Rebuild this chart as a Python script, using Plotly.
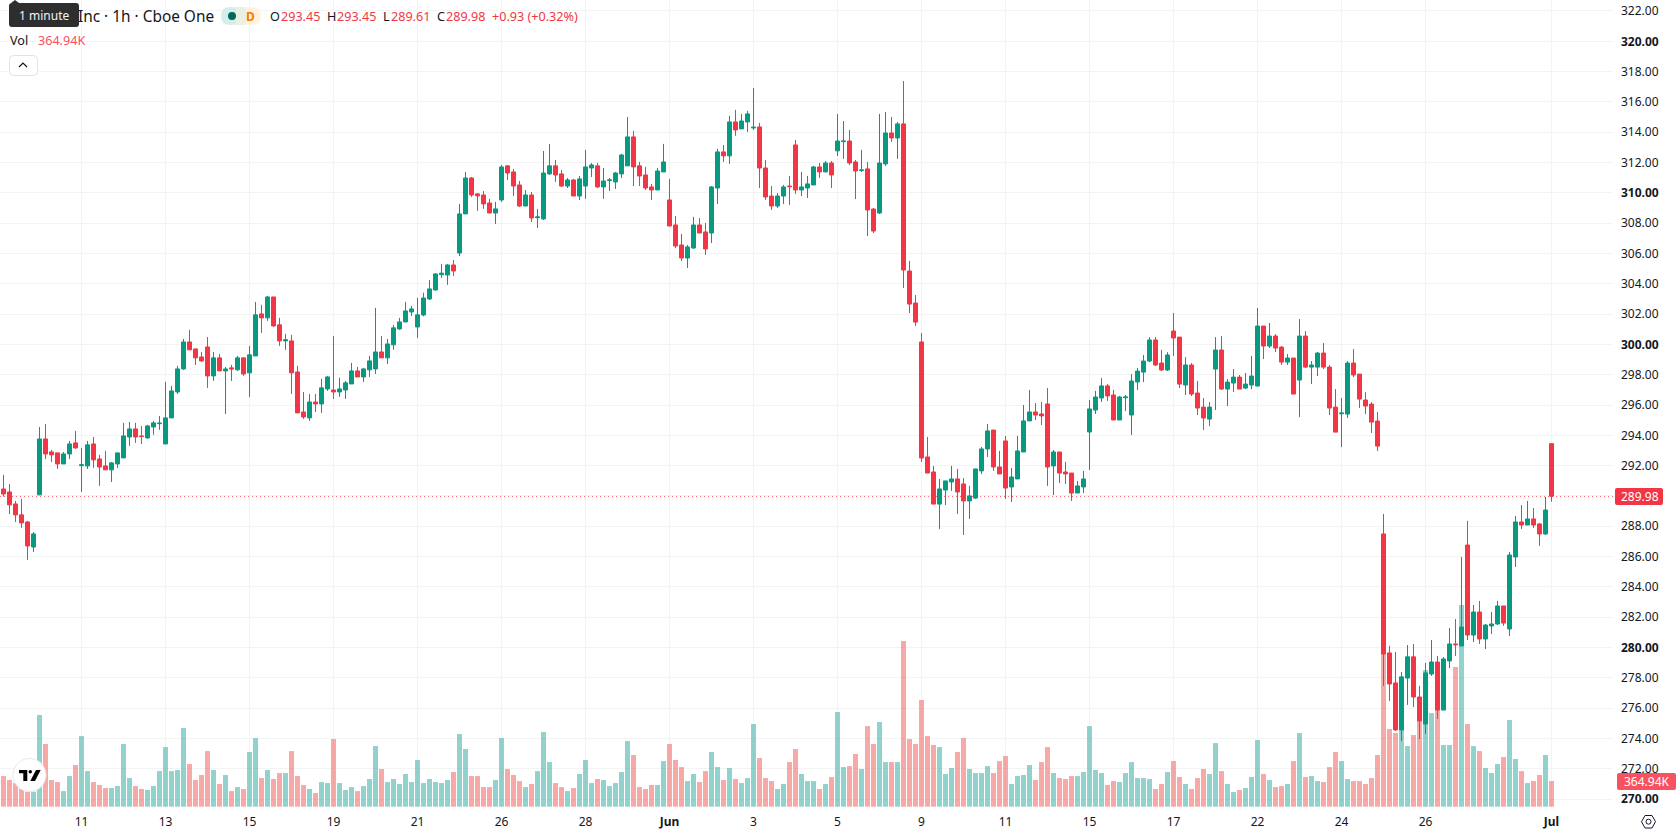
import plotly.graph_objects as go

# Hourly OHLC series
opens = [
    290.46,290.26,289.47,288.75,288.28,286.63,290.07,293.76,292.90,292.84,
    292.11,292.77,293.50,292.00,291.98,293.43,292.44,291.98,291.72,292.11,
    292.51,293.89,294.42,293.96,293.83,294.55,294.77,293.43,295.15,296.86,
    298.38,300.16,299.70,299.17,299.83,297.92,299.11,298.25,298.45,298.32,
    299.11,298.12,299.24,302.01,301.75,303.13,301.29,300.23,300.23,298.18,
    295.54,295.15,296.20,296.07,297.06,296.99,296.86,296.99,297.39,298.25,
    297.85,298.32,298.38,299.50,299.11,299.97,301.02,301.48,302.14,301.15,
    301.94,303.00,303.59,304.60,304.58,305.24,306.03,308.61,310.98,309.93,
    309.86,309.33,308.67,309.53,311.78,311.38,310.52,309.13,309.86,308.36,
    308.28,311.25,311.78,311.25,310.45,310.85,309.79,310.45,311.64,311.78,
    310.39,310.81,310.72,311.25,311.78,313.69,311.78,311.18,310.39,310.19,
    311.38,309.53,307.88,306.56,305.70,306.36,307.88,307.42,307.35,310.32,
    312.70,312.44,314.68,314.22,314.68,314.28,314.35,311.64,309.79,309.13,
    309.79,310.45,313.16,310.19,310.32,310.52,311.71,311.38,311.97,312.77,
    313.38,313.42,312.04,311.47,311.58,308.93,308.67,311.91,313.95,313.62,
    314.55,304.84,302.73,300.16,292.57,291.58,289.46,290.39,290.92,291.12,
    290.79,289.67,289.86,291.65,293.10,294.35,291.91,293.63,290.59,291.12,
    292.90,294.95,295.54,295.41,296.07,291.98,292.90,291.58,291.51,290.19,
    290.59,294.22,295.67,296.46,297.26,296.66,295.01,296.48,295.34,297.52,
    298.17,298.90,300.29,298.77,298.31,300.88,300.48,297.32,298.64,296.79,
    295.86,295.07,298.37,299.63,297.05,297.45,297.84,297.12,297.32,297.25,
    301.21,299.89,300.55,299.82,298.83,299.10,297.65,300.55,298.50,298.50,
    299.43,298.50,295.86,295.42,295.40,298.77,298.04,296.33,296.06,294.94,
    287.49,279.64,277.66,274.56,277.98,279.38,276.73,274.95,278.25,279.04,
    275.87,279.11,280.23,280.10,286.76,280.82,282.34,280.56,281.42,281.55,
    282.74,281.22,285.97,288.28,288.08,288.48,288.15,287.49,293.45,
]
highs = [
    291.39,290.79,289.67,289.80,288.35,287.62,294.55,294.75,293.04,292.84,
    292.90,293.63,294.29,293.17,293.63,293.89,292.71,292.97,292.24,292.84,
    294.82,294.88,294.82,294.62,294.69,294.95,295.28,297.52,297.26,298.58,
    300.36,300.96,299.70,299.50,300.49,299.50,299.37,298.51,298.65,299.24,
    299.11,299.90,302.80,302.61,303.20,303.13,301.75,300.69,300.63,298.58,
    296.86,296.73,296.73,297.72,297.92,300.56,297.79,297.59,298.78,298.51,
    298.45,299.24,302.41,300.56,300.36,301.29,301.75,302.80,302.54,303.07,
    303.41,304.25,304.71,305.31,305.31,305.57,309.27,311.38,311.05,309.99,
    310.12,309.60,309.40,311.84,311.84,311.58,310.78,310.19,310.06,308.94,
    312.76,313.23,312.17,311.51,310.98,310.92,311.11,312.83,311.97,311.97,
    311.64,310.98,311.38,312.57,315.01,314.08,312.04,311.71,310.59,311.64,
    313.23,310.92,308.47,307.29,306.56,308.41,308.34,308.01,310.45,312.90,
    313.16,315.08,315.47,315.21,315.41,316.92,314.61,312.17,310.45,309.99,
    310.52,311.11,313.49,311.38,311.11,311.78,311.97,312.10,312.10,315.21,
    314.74,314.15,312.17,312.83,312.04,309.00,315.21,315.34,315.01,314.68,
    317.38,305.50,303.26,300.75,293.89,291.98,291.12,290.99,291.98,291.78,
    291.18,290.66,291.78,293.23,294.75,294.35,292.97,293.96,291.84,293.96,
    296.00,296.99,296.13,296.20,297.12,293.03,292.90,292.24,291.51,290.99,
    291.65,296.33,296.93,297.78,297.39,296.99,296.60,296.66,298.04,298.44,
    299.30,300.48,300.48,299.63,299.49,302.07,300.48,299.16,298.77,297.58,
    296.46,296.19,300.48,300.55,297.71,298.37,297.98,298.11,299.23,302.40,
    301.21,301.41,300.68,299.89,299.36,299.10,301.67,300.88,298.90,299.49,
    300.09,298.64,297.05,296.46,298.90,299.69,298.04,296.85,296.19,295.54,
    288.81,280.10,279.70,278.38,280.16,280.23,277.46,278.98,280.49,279.44,
    279.37,281.28,281.88,285.97,288.35,282.80,283.07,281.55,282.34,283.07,
    282.74,286.30,288.68,289.40,289.67,289.20,288.21,289.93,293.45,
]
lows = [
    289.96,288.81,288.28,287.89,285.78,286.30,290.07,292.44,292.24,291.78,
    292.11,292.44,293.10,290.26,291.78,291.85,290.66,291.72,290.92,291.85,
    292.51,293.30,293.50,293.43,293.76,294.03,294.36,293.43,295.15,296.73,
    298.32,299.64,298.65,298.84,297.13,297.59,298.25,295.41,297.59,298.25,
    297.92,296.53,299.24,300.76,301.55,301.15,299.90,299.64,296.73,295.48,
    295.08,294.95,295.54,295.48,296.93,296.40,296.53,296.40,297.39,297.85,
    297.52,297.85,298.05,299.11,298.71,299.64,300.96,301.48,301.88,300.43,
    301.85,302.93,303.55,304.38,303.93,304.51,305.83,308.61,309.73,308.81,
    308.94,308.67,307.95,309.40,310.85,309.79,309.07,309.13,308.08,307.68,
    308.21,311.18,310.72,310.39,310.32,309.79,309.53,309.60,311.05,310.32,
    309.60,310.12,310.26,310.98,311.78,310.45,310.45,310.19,309.53,310.19,
    311.38,307.81,306.36,305.50,305.04,306.30,307.35,305.90,306.69,309.27,
    312.04,311.91,313.76,314.22,314.02,314.15,310.32,309.53,308.87,309.00,
    309.27,309.20,309.93,309.79,309.66,310.52,310.98,311.38,310.32,312.43,
    312.24,311.84,309.59,311.38,307.15,307.35,308.61,311.77,313.36,312.24,
    303.72,302.07,301.21,292.24,291.51,289.46,287.81,289.40,290.33,288.81,
    287.42,288.48,289.80,291.45,292.57,291.65,291.45,289.80,289.60,291.12,
    292.90,294.95,295.01,294.68,290.66,290.06,290.85,290.79,289.67,290.19,
    290.19,291.71,295.41,296.20,296.27,295.01,295.01,295.60,294.02,296.99,
    297.51,298.83,298.57,298.24,298.24,299.23,297.12,296.66,296.59,295.34,
    294.35,294.61,295.67,296.99,295.93,296.85,297.05,297.05,297.05,297.25,
    299.03,299.76,299.49,298.64,298.64,296.72,295.20,298.44,297.38,297.91,
    298.37,295.34,294.21,293.22,295.14,297.84,295.80,295.40,294.15,292.96,
    277.46,276.47,274.49,273.83,276.21,276.07,273.96,274.29,278.12,275.28,
    275.87,278.64,279.44,280.10,280.49,280.36,280.23,279.90,280.89,281.48,
    281.42,280.76,285.31,287.82,288.08,287.88,286.70,287.42,289.61,
]
closes = [
    290.13,289.41,288.75,288.22,286.70,287.49,293.76,292.77,292.71,292.11,
    292.77,293.43,293.17,292.05,293.37,292.38,291.91,291.72,292.18,292.84,
    293.96,294.42,293.89,293.92,294.62,294.82,294.80,295.15,296.93,298.38,
    300.16,299.64,299.11,298.91,297.92,299.11,298.25,298.38,298.38,299.11,
    298.05,299.31,301.95,301.75,303.13,301.22,300.23,300.30,298.12,295.48,
    295.21,296.20,296.07,297.13,297.85,296.86,297.06,297.46,298.25,297.85,
    298.38,298.91,299.50,299.11,300.03,301.09,301.48,302.21,302.34,301.95,
    303.06,303.66,304.65,304.70,305.24,304.84,308.61,310.98,309.86,309.80,
    309.27,308.67,308.94,311.71,311.31,310.45,309.13,309.86,308.34,308.41,
    311.31,311.78,311.18,310.45,310.85,309.79,310.92,311.71,311.84,310.39,
    310.78,310.85,311.31,312.50,313.69,311.71,311.11,310.32,310.19,311.44,
    312.04,307.81,306.49,305.70,306.43,307.88,307.35,306.30,310.39,312.70,
    312.44,314.68,314.15,314.74,315.21,314.33,311.64,309.73,309.13,309.79,
    310.39,310.41,310.19,310.39,310.59,311.71,311.38,311.97,311.18,313.42,
    313.42,311.97,311.44,311.51,308.87,307.48,311.97,313.95,313.62,314.55,
    304.91,302.66,301.47,292.50,291.51,289.46,290.46,290.99,291.12,290.26,
    289.67,290.00,291.78,293.10,294.29,291.91,291.45,290.52,291.25,292.97,
    294.95,295.54,295.34,295.28,291.91,292.90,291.51,291.45,290.19,290.66,
    291.12,295.74,296.53,297.26,296.60,295.01,296.53,296.53,297.58,298.24,
    298.90,300.29,298.64,298.31,299.30,300.42,297.38,298.64,296.72,295.80,
    295.14,295.86,299.63,297.05,297.51,297.84,297.05,297.38,297.91,301.21,
    299.89,300.55,299.76,298.83,299.10,296.72,300.55,298.50,298.64,299.43,
    298.50,295.80,294.21,295.47,298.77,297.98,296.39,295.93,294.87,293.29,
    279.57,277.59,274.56,278.06,279.38,276.73,275.15,278.32,279.04,275.87,
    279.24,280.23,280.18,281.35,280.82,282.34,280.56,281.48,281.55,282.74,
    281.61,286.10,288.28,288.08,288.48,288.08,287.49,289.07,289.98,
]
# Volume per bar, thousands of shares
volumes_k = [
    435,379,336,260,213,213,1302,890,379,350,
    222,435,592,1003,506,350,308,265,265,293,
    890,407,293,251,237,293,506,847,506,521,
    1117,606,379,450,790,521,322,450,222,279,
    251,776,975,407,521,393,478,478,790,435,
    308,251,194,350,336,961,336,237,279,222,
    293,393,861,535,350,393,322,464,350,663,
    336,393,350,336,379,492,1032,819,435,435,
    279,279,379,975,535,450,364,279,322,506,
    1060,634,336,279,222,265,464,663,336,393,
    379,293,336,492,932,734,279,251,308,308,
    648,890,663,563,364,464,350,506,776,563,
    379,549,393,336,407,1174,691,407,364,251,
    322,634,819,464,364,364,251,322,421,1344,
    563,577,748,535,1145,890,1202,634,634,634,
    2352,961,890,1515,1003,876,847,464,549,776,
    975,535,478,478,577,478,648,719,322,435,
    450,592,379,634,847,478,407,393,435,435,
    492,1145,521,478,308,364,350,478,634,407,
    407,393,251,322,492,648,421,322,251,407,
    535,464,904,506,322,208,237,265,421,947,
    464,379,279,293,322,648,1046,421,435,364,
    350,563,776,648,393,364,364,322,407,734,
    2168,1103,1046,1103,861,1018,1216,1941,1330,1373,
    876,876,1984,2864,1174,861,790,549,478,606,
    705,1231,677,506,336,364,450,734,364.94,
]
date_positions = [13,27,41,55,69,83,97,111,125,139,153,167,181,195,209,223,237,258]
date_labels = ["11","13","15","19","21","26","28","<b>Jun</b>","3","5","9","11","15","17","22","24","26","<b>Jul</b>"]
price_ticks = list(range(270, 324, 2))
last_price = 289.98
last_volume_label = "364.94K"

UP = "#089981"
DOWN = "#F23645"
INK = "#131722"
GRID = "#f2f3f3"
FONT = "Noto Sans"
WIDTH, HEIGHT = 1678, 835
PLOT_W, PLOT_H = 1613, 808
PX_PER_BAR = 6.0
FIRST_BAR_PX = 3.5
PX_PER_PRICE = 15.154
PX_AT_270 = 799.0
VOL_BASE_PX = 806.7
KILO_PER_PX = 14.2


def px(x):
    return x / PLOT_W


def py(y):
    return 1 - y / PLOT_H


def price_label(p):
    if p == 290:
        return ""
    text = f"{p:.2f}"
    return f"<b>{text}</b>" if p % 10 == 0 else text


def text_at(x, y, text, size=12.6, color=INK, anchor="left"):
    return dict(
        x=px(x), y=py(y), xref="paper", yref="paper", text=text, showarrow=False,
        xanchor=anchor, yanchor="middle", borderpad=0,
        font=dict(family=FONT, size=size, color=color),
    )


def box(x0, y0, x1, y1, fill, line=None, radius=0):
    # rounded rectangle in pixel coordinates
    a, b, c, d = px(x0), py(y0), px(x1), py(y1)
    rx, ry = radius / PLOT_W, radius / PLOT_H
    path = (
        f"M{a+rx},{b} L{c-rx},{b} Q{c},{b} {c},{b-ry} L{c},{d+ry} Q{c},{d} {c-rx},{d} "
        f"L{a+rx},{d} Q{a},{d} {a},{d+ry} L{a},{b-ry} Q{a},{b} {a+rx},{b} Z"
    )
    return dict(type="path", xref="paper", yref="paper", path=path, fillcolor=fill,
                line=dict(color=line or "rgba(0,0,0,0)", width=1 if line else 0), layer="above")


def poly(points, fill=None, line=None, width=1, closed=True):
    path = "M" + " L".join(f"{px(x)},{py(y)}" for x, y in points) + (" Z" if closed else "")
    return dict(type="path", xref="paper", yref="paper", path=path,
                fillcolor=fill or "rgba(0,0,0,0)",
                line=dict(color=line or "rgba(0,0,0,0)", width=width if line else 0), layer="above")


def circle(cx, cy, r, fill, line=None):
    return dict(type="circle", xref="paper", yref="paper",
                x0=px(cx - r), x1=px(cx + r), y0=py(cy + r), y1=py(cy - r),
                fillcolor=fill, line=dict(color=line or "rgba(0,0,0,0)", width=1 if line else 0),
                layer="above")


bars = list(range(len(closes)))
volume_colors = ["rgba(239,83,80,0.5)" if c < o else "rgba(38,166,154,0.5)" for o, c in zip(opens, closes)]

fig = go.Figure()
fig.add_trace(go.Bar(x=bars, y=volumes_k, marker=dict(color=volume_colors, line=dict(width=0)),
                     width=5 / 6, xaxis="x", yaxis="y", hoverinfo="skip", showlegend=False))
fig.add_trace(go.Candlestick(
    x=bars, open=opens, high=highs, low=lows, close=closes, xaxis="x", yaxis="y2",
    increasing=dict(line=dict(color=UP, width=1), fillcolor=UP),
    decreasing=dict(line=dict(color=DOWN, width=1), fillcolor=DOWN),
    whiskerwidth=0, showlegend=False,
))

shapes = [
    dict(type="line", xref="paper", yref="y2", x0=0, x1=1, y0=last_price, y1=last_price,
         line=dict(color=DOWN, width=1, dash="1px,3px"), layer="below"),
    # last price and last volume tags on the axis
    box(1615, 488, 1663, 505, DOWN, radius=2),
    box(1617, 773, 1676, 790, "#f7525f", radius=2),
    # tooltip over the symbol name
    poly([(11, 3), (15, 0), (19, 3)], fill="#2e2e2e"),
    box(9, 3, 79, 27, "#2e2e2e", radius=3),
    # market status badge
    box(221, 7, 241, 25, "#d5eeea", radius=9),
    box(241, 7, 261, 25, "#fff3e0", radius=9),
    box(236, 7, 246, 25, "#e9f1e5"),
    circle(232, 16, 4, "#006b5a"),
    # collapse button
    box(9.5, 55.5, 37.5, 75.5, "#ffffff", line="#e0e3eb", radius=4),
    poly([(19, 67), (23, 63), (27, 67)], line=INK, width=1.2, closed=False),
    # chart brand badge
    circle(29.5, 775, 16.5, "#ffffff", line="#e6e8ee"),
    poly([(19, 770), (27.3, 770), (27.3, 781), (23.3, 781), (23.3, 773.3), (19, 773.3)], fill="#000000"),
    circle(30.3, 771.7, 1.7, "#000000"),
    poly([(36, 770), (40.7, 770), (35, 781), (30.3, 781)], fill="#000000"),
    # settings icon on the axis corner
    poly([(1641.5, 821.7), (1645, 815.5), (1652, 815.5), (1655.5, 821.7), (1652, 828), (1645, 828)],
         line=INK, width=1),
    circle(1648.5, 821.7, 2.5, "rgba(0,0,0,0)", line=INK),
]

annotations = [
    text_at(77, 16, "Inc · 1h · Cboe One", size=15.4),
    text_at(43.5, 15.5, "1 minute", size=12, color="#f0f3fa", anchor="center"),
    text_at(250.5, 16, "<b>D</b>", size=12, color="#f57c00", anchor="center"),
    text_at(269, 16, "O"), text_at(280, 16, "293.45", color=DOWN),
    text_at(326, 16, "H"), text_at(336, 16, "293.45", color=DOWN),
    text_at(382, 16, "L"), text_at(390, 16, "289.61", color=DOWN),
    text_at(436, 16, "C"), text_at(445, 16, "289.98", color=DOWN),
    text_at(491, 16, "+0.93 (+0.32%)", color=DOWN),
    text_at(9, 40.5, "Vol"),
    text_at(37, 40.5, last_volume_label, color="#f7525f"),
    text_at(1640, 496.5, f"{last_price:.2f}", size=12, color="#ffffff", anchor="center"),
    text_at(1646.5, 781.5, last_volume_label, size=12, color="#ffffff", anchor="center"),
]

fig.update_layout(
    width=WIDTH, height=HEIGHT, autosize=False,
    margin=dict(l=0, r=WIDTH - PLOT_W, t=0, b=HEIGHT - PLOT_H, pad=0),
    paper_bgcolor="#ffffff", plot_bgcolor="#ffffff",
    font=dict(family=FONT, size=12, color=INK),
    barmode="overlay", boxgap=1 / 3, boxgroupgap=0,
    showlegend=False, shapes=shapes, annotations=annotations,
    xaxis=dict(
        range=[-FIRST_BAR_PX / PX_PER_BAR, (PLOT_W - FIRST_BAR_PX) / PX_PER_BAR],
        tickmode="array", tickvals=date_positions, ticktext=date_labels,
        showgrid=True, gridcolor=GRID, gridwidth=1, zeroline=False, showline=False,
        ticks="", ticklabelstandoff=5, rangeslider=dict(visible=False),
        tickfont=dict(family=FONT, size=12, color=INK),
    ),
    yaxis=dict(
        range=[-(PLOT_H - VOL_BASE_PX) * KILO_PER_PX, VOL_BASE_PX * KILO_PER_PX],
        visible=False, showgrid=False, zeroline=False,
    ),
    yaxis2=dict(
        range=[270 - (PLOT_H - PX_AT_270) / PX_PER_PRICE, 270 + PX_AT_270 / PX_PER_PRICE],
        overlaying="y", side="right", anchor="x",
        tickmode="array", tickvals=price_ticks, ticktext=[price_label(p) for p in price_ticks],
        showgrid=True, gridcolor=GRID, gridwidth=1, zeroline=False, showline=False,
        ticks="", ticklabelstandoff=7, tickfont=dict(family=FONT, size=12, color=INK),
    ),
)

fig.write_html("out.html")
